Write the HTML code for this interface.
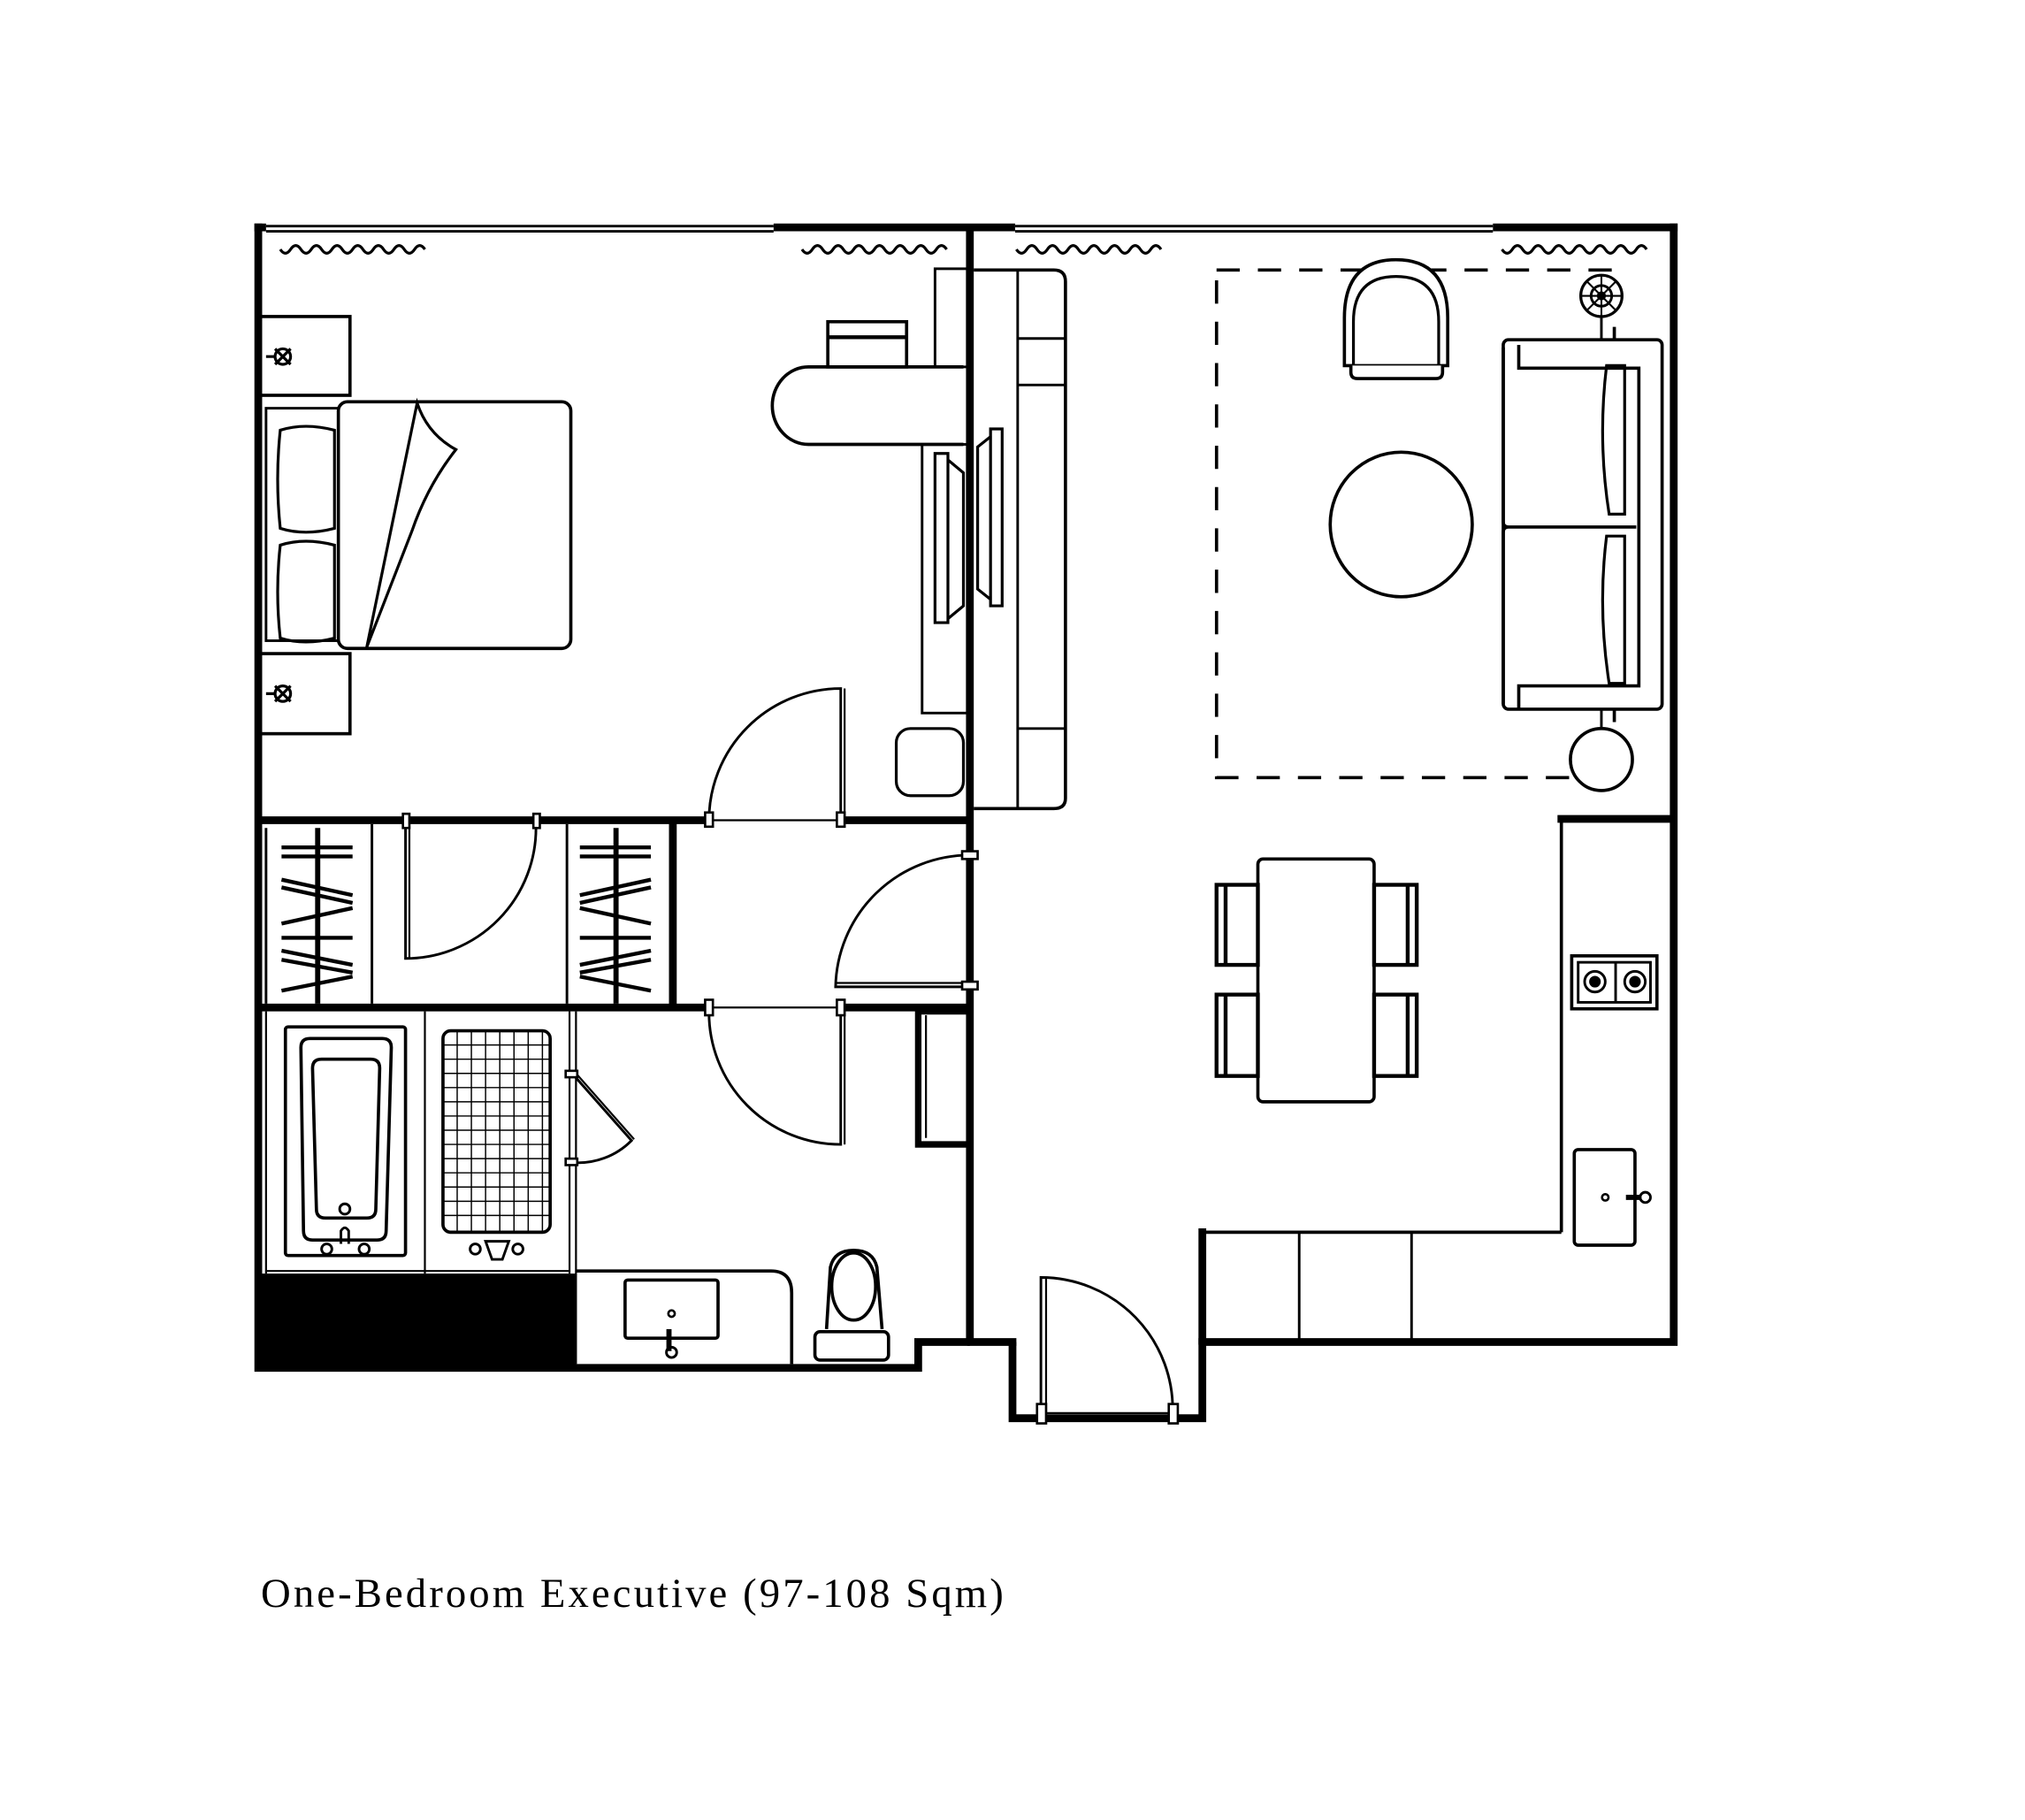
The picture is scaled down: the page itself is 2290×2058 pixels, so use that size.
<!DOCTYPE html>
<html><head><meta charset="utf-8"><style>
html,body{margin:0;padding:0;background:#fff;}
svg{display:block;}
</style></head><body>
<svg width="2290" height="2058" viewBox="-1 -1 1568 1409" xmlns="http://www.w3.org/2000/svg">
<rect x="-1" y="-1" width="1568" height="1409" fill="#fff"/>
<defs>
<path id="wave" d="M0,0 q4,6 8,0 q4,-6 8,0 q4,6 8,0 q4,-6 8,0 q4,6 8,0 q4,-6 8,0 q4,6 8,0 q4,-6 8,0 q4,6 8,0 q4,-6 8,0 q4,6 8,0 q4,-6 8,0 q4,6 8,0 q4,-6 8,0" fill="none" stroke="#000" stroke-width="2.2"/>
</defs>
<g fill="none" stroke="#000" stroke-linejoin="miter">
<line x1="205" y1="174" x2="598" y2="174" stroke-width="2"/>
<line x1="205" y1="178" x2="598" y2="178" stroke-width="2"/>
<line x1="785" y1="174" x2="1155" y2="174" stroke-width="2"/>
<line x1="785" y1="178" x2="1155" y2="178" stroke-width="2"/>
<line x1="196" y1="175" x2="205" y2="175" stroke-width="6"/>
<line x1="598" y1="175" x2="785" y2="175" stroke-width="6"/>
<line x1="1155" y1="175" x2="1298" y2="175" stroke-width="6"/>
<path d="M199,172 V1058 H710 V1038 H750 M783,1038 V1097 H930 V1038 H1295 V172" stroke-width="6"/>
<line x1="748" y1="1038" x2="786" y2="1038" stroke-width="6"/>
<line x1="750" y1="175" x2="750" y2="1040" stroke-width="6"/>
<line x1="199" y1="634" x2="548" y2="634" stroke-width="6"/>
<line x1="650" y1="634" x2="750" y2="634" stroke-width="6"/>
<line x1="548" y1="634" x2="650" y2="634" stroke-width="1.5"/>
<line x1="199" y1="779" x2="548" y2="779" stroke-width="6"/>
<line x1="650" y1="779" x2="750" y2="779" stroke-width="6"/>
<line x1="548" y1="779" x2="650" y2="779" stroke-width="1.5"/>
<line x1="520" y1="634" x2="520" y2="779" stroke-width="6"/>
<line x1="205" y1="640" x2="205" y2="776" stroke-width="2"/>
<line x1="287" y1="637" x2="287" y2="776" stroke-width="2"/>
<line x1="438" y1="637" x2="438" y2="776" stroke-width="2"/>
<line x1="245" y1="640" x2="245" y2="776" stroke-width="4"/>
<line x1="476" y1="640" x2="476" y2="776" stroke-width="4"/>
<g stroke-width="3">
<path d="M217,655 H272 M217,662 H272 M217,680 L272,692 M217,686 L272,698 M217,714 L272,702 M217,725 H272 M217,735 L272,746 M217,742 L272,752 M217,766 L272,755"/>
<path d="M448,655 H503 M448,662 H503 M448,692 L503,680 M448,698 L503,686 M448,702 L503,714 M448,725 H503 M448,746 L503,735 M448,752 L503,742 M448,755 L503,766"/>
</g>
<line x1="313" y1="634" x2="414" y2="634" stroke-width="1.5"/>
<path d="M313,638 V741 A101,101 0 0 0 414,638" stroke-width="2"/>
<line x1="316" y1="638" x2="316" y2="741" stroke-width="1.5"/>
<rect x="311" y="629" width="5" height="11" fill="#fff" stroke-width="1.8"/>
<rect x="412" y="629" width="5" height="11" fill="#fff" stroke-width="1.8"/>
<path d="M548,634 A102,102 0 0 1 650,532 V634" stroke-width="2"/>
<line x1="653" y1="532" x2="653" y2="634" stroke-width="1.5"/>
<rect x="545" y="628" width="6" height="11" fill="#fff" stroke-width="1.8"/>
<rect x="647" y="628" width="6" height="11" fill="#fff" stroke-width="1.8"/>
<path d="M750,661 A104,104 0 0 0 646,763 H750" stroke-width="2"/>
<line x1="646" y1="760" x2="750" y2="760" stroke-width="1.5"/>
<rect x="744" y="658" width="12" height="6" fill="#fff" stroke-width="1.8"/>
<rect x="744" y="759" width="12" height="6" fill="#fff" stroke-width="1.8"/>
<path d="M548,782 A102,102 0 0 0 650,885 V782" stroke-width="2"/>
<line x1="653" y1="782" x2="653" y2="885" stroke-width="1.5"/>
<rect x="545" y="773" width="6" height="12" fill="#fff" stroke-width="1.8"/>
<rect x="647" y="773" width="6" height="12" fill="#fff" stroke-width="1.8"/>
<path d="M750,782 H710 V885 H750" stroke-width="5"/>
<line x1="716" y1="785" x2="716" y2="880" stroke-width="1.5"/>
<line x1="440" y1="782" x2="440" y2="985" stroke-width="1.5"/>
<line x1="445" y1="782" x2="445" y2="1055" stroke-width="1.5"/>
<path d="M442,830 L488,882 A58,58 0 0 1 442,899" stroke-width="2"/>
<line x1="445" y1="830" x2="490" y2="881" stroke-width="1.5"/>
<rect x="437" y="828" width="9" height="5" fill="#fff" stroke-width="1.8"/>
<rect x="437" y="896" width="9" height="5" fill="#fff" stroke-width="1.8"/>
<line x1="205" y1="782" x2="205" y2="985" stroke-width="1.5"/>
<line x1="328" y1="782" x2="328" y2="985" stroke-width="1.5"/>
<line x1="205" y1="983" x2="440" y2="983" stroke-width="1.5"/>
<rect x="199" y="985" width="246" height="73" fill="#000" stroke="none"/>
<rect x="220" y="794" width="93" height="177" rx="2" stroke-width="2.5"/>
<path d="M232,810 Q232,803 239,803 H295 Q302,803 302,810 L298,952 Q298,959 291,959 H241 Q234,959 234,952 Z" stroke-width="2.5"/>
<path d="M241,826 Q241,819 248,819 H286 Q293,819 293,826 L290,935 Q290,942 283,942 H251 Q244,942 244,935 Z" stroke-width="2.5"/>
<circle cx="266" cy="935" r="4" stroke-width="2"/>
<path d="M263,962 V952 Q266,947 269,952 V962" stroke-width="2"/>
<circle cx="252" cy="966" r="4" fill="#fff" stroke-width="2"/>
<circle cx="281" cy="966" r="4" fill="#fff" stroke-width="2"/>
<rect x="342" y="797" width="83" height="156" rx="6" stroke-width="2.5"/>
<g stroke-width="1">
<path d="M353,797V953 M364,797V953 M375,797V953 M386,797V953 M397,797V953 M408,797V953 M419,797V953"/>
<path d="M342,808H425 M342,819H425 M342,830H425 M342,841H425 M342,852H425 M342,863H425 M342,874H425 M342,885H425 M342,896H425 M342,907H425 M342,918H425 M342,929H425 M342,940H425"/>
</g>
<circle cx="367" cy="966" r="4" stroke-width="2"/>
<circle cx="400" cy="966" r="4" stroke-width="2"/>
<path d="M375,960 H393 L388,974 H380 Z" stroke-width="2"/>
<path d="M445,983 H596 Q612,983 612,1000 V1055" stroke-width="2.5"/>
<rect x="483" y="990" width="72" height="45" rx="2" stroke-width="2.5"/>
<circle cx="519" cy="1016" r="2.5" stroke-width="1.8"/>
<path d="M517,1028 V1045" stroke-width="4"/>
<circle cx="519" cy="1046" r="4" stroke-width="2"/>
<path d="M639,1028 L642,980 Q645,967 660,967 Q675,967 678,980 L682,1028" stroke-width="2.5"/>
<ellipse cx="660" cy="995" rx="17" ry="26" stroke-width="2.5"/>
<rect x="630" y="1030" width="57" height="22" rx="4" stroke-width="2.5"/>
<use href="#wave" x="216" y="192"/>
<use href="#wave" x="620" y="192"/>
<use href="#wave" x="786" y="192"/>
<use href="#wave" x="1162" y="192"/>
<rect x="199" y="244" width="71" height="61" stroke-width="2.5"/>
<rect x="199" y="505" width="71" height="62" stroke-width="2.5"/>
<g stroke-width="2.2">
<circle cx="218" cy="275" r="6"/><path d="M212,269l12,12M224,269l-12,12M205,275h7"/>
<circle cx="218" cy="536" r="6"/><path d="M212,530l12,12M224,530l-12,12M205,536h7"/>
</g>
<rect x="205" y="315" width="56" height="180" stroke-width="2"/>
<path d="M216,332 Q235,326 258,332 V408 Q235,414 216,408 Q212,370 216,332 Z" stroke-width="2.2"/>
<path d="M216,421 Q235,415 258,421 V493 Q235,499 216,493 Q212,457 216,421 Z" stroke-width="2.2"/>
<rect x="261" y="310" width="180" height="191" rx="7" stroke-width="2.5"/>
<path d="M283,500 L322,311 Q330,335 352,347 Q330,375 318,410 Z" stroke-width="2.2" fill="#fff"/>
<path d="M745,283 H625 A28,30 0 0 0 625,343 H745" stroke-width="2.5"/>
<rect x="640" y="248" width="61" height="35" stroke-width="2.5"/>
<line x1="640" y1="260" x2="701" y2="260" stroke-width="3"/>
<rect x="723" y="207" width="25" height="76" stroke-width="2"/>
<rect x="713" y="343" width="35" height="208" stroke-width="2"/>
<path d="M723,350 H733 V481 H723 Z M733,355 L745,365 V468 L733,478" stroke-width="2.2"/>
<rect x="693" y="563" width="52" height="52" rx="11" stroke-width="2.2"/>
<path d="M753,208 H815 Q824,208 824,217 V617 Q824,625 815,625 H753" stroke-width="2.5"/>
<line x1="787" y1="208" x2="787" y2="625" stroke-width="2"/>
<path d="M787,261H824 M787,297H824 M787,563H824" stroke-width="2"/>
<path d="M766,331 H775 V468 H766 Z M766,337 L756,345 V455 L766,463" stroke-width="2.2"/>
<rect x="941" y="208" width="308" height="393" stroke-width="2.5" stroke-dasharray="18,14"/>
<path d="M1040,282 V245 Q1040,200 1080,200 Q1120,200 1120,245 V282 Z" fill="#fff" stroke-width="2.5"/>
<path d="M1047,282 V248 Q1047,213 1080,213 Q1113,213 1113,248 V282" stroke-width="2.2"/>
<path d="M1045,282 V287 Q1045,292 1050,292 H1111 Q1116,292 1116,287 V282" fill="#fff" stroke-width="2.5"/>
<circle cx="1239" cy="228" r="16" fill="#fff" stroke-width="2.2"/>
<circle cx="1239" cy="228" r="8" stroke-width="2"/>
<circle cx="1239" cy="228" r="3" fill="#000"/>
<path d="M1239,212v32M1223,228h32M1228,217l22,22M1250,217l-22,22" stroke-width="1.4"/>
<line x1="1239" y1="244" x2="1239" y2="262" stroke-width="2"/>
<ellipse cx="1084" cy="405" rx="55" ry="56" stroke-width="2.5" fill="#fff"/>
<rect x="1163" y="262" width="123" height="286" rx="4" fill="#fff" stroke-width="2.5"/>
<path d="M1175,266 V284 H1268 V530 H1175 V548" stroke-width="2.5"/>
<path d="M1163,268 V403 Q1163,407 1167,407 H1266 M1167,407 Q1163,407 1163,411 V544" stroke-width="2.5"/>
<path d="M1243,282 H1257 V397 H1245 Q1236,340 1243,282 Z" stroke-width="2.2"/>
<path d="M1243,414 H1257 V528 H1245 Q1236,470 1243,414 Z" stroke-width="2.2"/>
<line x1="1239" y1="548" x2="1239" y2="565" stroke-width="2"/>
<ellipse cx="1239" cy="587" rx="24" ry="24" fill="#fff" stroke-width="2.5"/>
<line x1="1205" y1="633" x2="1295" y2="633" stroke-width="6"/>
<line x1="1208" y1="633" x2="1208" y2="953" stroke-width="2.5"/>
<line x1="930" y1="953" x2="1208" y2="953" stroke-width="2.5"/>
<line x1="930" y1="950" x2="930" y2="1040" stroke-width="6"/>
<line x1="1005" y1="953" x2="1005" y2="1036" stroke-width="2"/>
<line x1="1092" y1="953" x2="1092" y2="1036" stroke-width="2"/>
<rect x="1216" y="739" width="66" height="41" stroke-width="2.5"/>
<rect x="1221" y="744" width="56" height="31" stroke-width="2"/>
<line x1="1250" y1="744" x2="1250" y2="775" stroke-width="2"/>
<g stroke-width="2"><circle cx="1234" cy="759" r="8"/><circle cx="1265" cy="759" r="8"/></g>
<circle cx="1234" cy="759" r="4" fill="#000"/><circle cx="1265" cy="759" r="4" fill="#000"/>
<rect x="1218" y="889" width="47" height="74" rx="3" stroke-width="2.5"/>
<circle cx="1242" cy="926" r="2.5" stroke-width="1.8"/>
<path d="M1258,926 H1270" stroke-width="4"/>
<circle cx="1273" cy="926" r="4" stroke-width="2"/>
<rect x="973" y="664" width="90" height="188" rx="4" fill="#fff" stroke-width="2.5"/>
<g stroke-width="3">
<rect x="941" y="684" width="32" height="62"/><line x1="948" y1="684" x2="948" y2="746"/>
<rect x="941" y="769" width="32" height="63"/><line x1="948" y1="769" x2="948" y2="832"/>
<rect x="1063" y="684" width="33" height="62"/><line x1="1089" y1="684" x2="1089" y2="746"/>
<rect x="1063" y="769" width="33" height="63"/><line x1="1089" y1="769" x2="1089" y2="832"/>
</g>
<path d="M805,1093 V988 A102,102 0 0 1 907,1093" stroke-width="2"/>
<line x1="809" y1="988" x2="809" y2="1093" stroke-width="1.5"/>
<line x1="805" y1="1093" x2="907" y2="1093" stroke-width="1.5"/>
<rect x="802" y="1086" width="7" height="15" fill="#fff" stroke-width="1.8"/>
<rect x="904" y="1086" width="7" height="15" fill="#fff" stroke-width="1.8"/>
</g>
<text x="201" y="1243" font-family="'Liberation Serif', serif" font-size="32" textLength="575" lengthAdjust="spacing" fill="#000">One-Bedroom Executive (97-108 Sqm)</text>
</svg>
</body></html>
